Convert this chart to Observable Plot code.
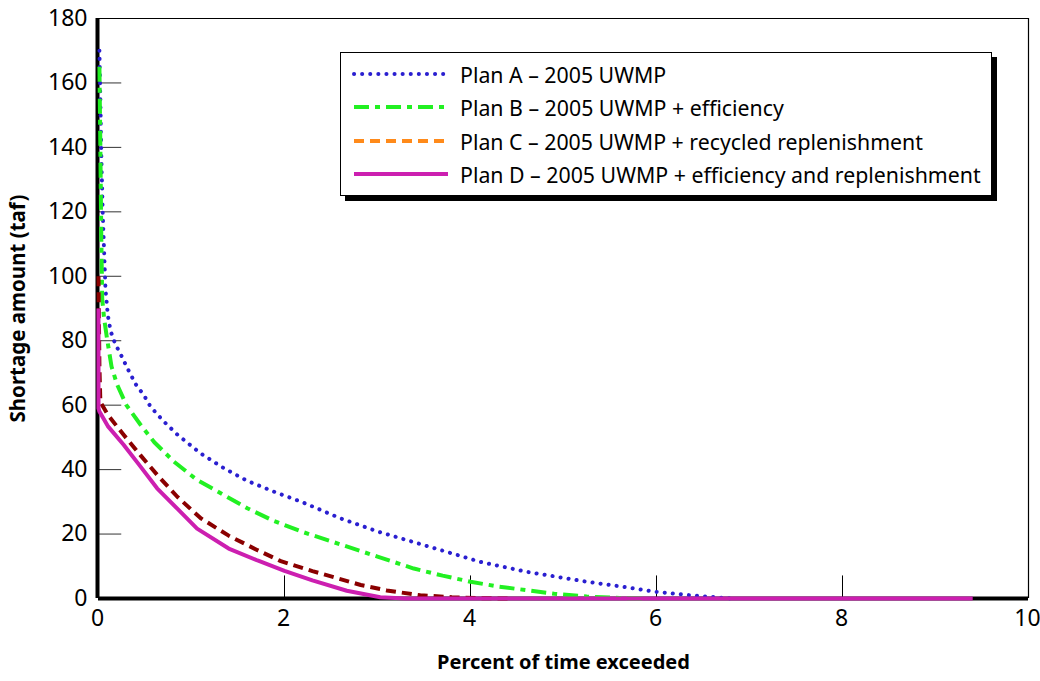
<!DOCTYPE html>
<html><head><meta charset="utf-8">
<script src="https://cdn.jsdelivr.net/npm/d3@7"></script>
<script src="https://cdn.jsdelivr.net/npm/@observablehq/plot@0.6"></script>
<style>
body{margin:0;background:#fff;font-family:"Noto Sans",sans-serif}
#wrap{position:relative;width:1040px;height:681px}
#legend{position:absolute;left:340px;top:52px;width:652px;height:144px;border:1px solid #000;background:#fff;box-shadow:5px 5px 0 #000;box-sizing:border-box}
.row{position:absolute;left:11px;height:26px;display:flex;align-items:center;font-size:21.3px;color:#000;white-space:nowrap}
.row svg{margin-right:10px}
</style></head><body><div id="wrap"></div>
<script>
// Data
const seriesNames = ["Plan A – 2005 UWMP", "Plan B – 2005 UWMP + efficiency", "Plan C – 2005 UWMP + recycled replenishment", "Plan D – 2005 UWMP + efficiency and replenishment"];
const lineColors = ["#2a1fd0", "#22f022", "#8a0000", "#cc1fb0"];
const legendColors = ["#2a1fd0", "#22f022", "#ff8a1a", "#cc1fb0"];

const planA_x = [0.01, 0.02, 0.03, 0.045, 0.06, 0.075, 0.1, 0.13, 0.18, 0.24, 0.31, 0.4, 0.49, 0.56, 0.7, 0.85, 1.1, 1.35, 1.6, 1.9, 2.2, 2.6, 3.0, 3.4, 3.8, 4.1, 4.6, 5.25, 5.6, 6.0, 6.4, 6.8];
const planA_y = [170, 155, 138, 120, 108, 96, 88, 83, 79, 75.7, 71.5, 66.5, 63, 59.5, 55, 50.8, 45, 40.4, 36.5, 33, 29.8, 24.9, 20.8, 17.4, 14, 11.4, 8.3, 5.2, 3.8, 2.05, 0.9, 0];

const planB_x = [0.01, 0.02, 0.03, 0.04, 0.06, 0.09, 0.14, 0.2, 0.3, 0.45, 0.6, 0.81, 1.05, 1.35, 1.6, 1.89, 2.2, 2.6, 3.0, 3.39, 3.7, 4.0, 4.3, 4.6, 4.9, 5.25, 5.6, 5.9];
const planB_y = [165, 140, 112, 93, 87, 81, 72, 66.4, 60, 54, 48.5, 42.5, 37, 32.1, 28, 24, 20.6, 16.8, 13, 9.3, 7.1, 5.2, 3.7, 2.6, 1.5, 0.6, 0.15, 0];

const planC_x = [0.0, 0.005, 0.01, 0.02, 0.1, 0.27, 0.45, 0.63, 0.85, 1.1, 1.4, 1.71, 1.96, 2.3, 2.58, 2.82, 3.1, 3.46, 3.8, 4.1, 4.4];
const planC_y = [100, 85, 72, 61, 57, 50.8, 44.5, 38.4, 31.5, 24.9, 19.5, 15, 11.6, 8.5, 6.2, 4.2, 2.5, 1.0, 0.4, 0.1, 0];

const planD_x = [0.0, 0.0, 0.01, 0.1, 0.27, 0.45, 0.63, 0.85, 1.06, 1.4, 1.71, 2.0, 2.3, 2.67, 3.03, 3.3, 9.4];
const planD_y = [90, 59, 58, 53.5, 47.7, 41, 34.2, 27.8, 21.7, 15.5, 11.8, 8.6, 5.6, 2.4, 0.4, 0, 0];

const xTicks = [0, 2, 4, 6, 8, 10];
const yTicks = [0, 20, 40, 60, 80, 100, 120, 140, 160, 180];
const innerXTicks = [2, 4, 6, 8];
const innerYTicks = [0, 20, 40, 60, 80, 100, 120, 140, 160];

const dashes = ["0.1 8", "15 6 5 6", "10 6", null];
const widths = [4, 4, 4, 4];

const series = [planA_x, planB_x, planC_x, planD_x].map((xs, i) => {
  const ys = [planA_y, planB_y, planC_y, planD_y][i];
  return xs.map((x, j) => ({x, y: ys[j], s: i}));
});

const font = '"Noto Sans", sans-serif';

const marks = [
  Plot.ruleY([180], {stroke: "#000", strokeWidth: 1.2}),
  Plot.ruleX([10], {stroke: "#000", strokeWidth: 1.2}),
  Plot.ruleY(innerYTicks, {y: d => d, x1: 0, x2: 0.25, stroke: "#333", strokeWidth: 1}),
  Plot.ruleX(innerXTicks, {x: d => d, y1: 0, y2: 7, stroke: "#000", strokeWidth: 1}),
  Plot.ruleX([0], {stroke: "#000", strokeWidth: 4, dx: -1}),
  Plot.ruleY([0], {stroke: "#000", strokeWidth: 4}),
  ...series.map((data, i) => Plot.line(data, {
    x: "x", y: "y", stroke: lineColors[i], strokeWidth: widths[i],
    strokeDasharray: dashes[i], strokeLinecap: i === 0 ? "round" : "butt",
    strokeLinejoin: "round"
  })),
  Plot.text(yTicks, {x: 0, y: d => d, text: d => String(d), textAnchor: "end", dx: -11, fontSize: 23, fill: "#000"}),
  Plot.text(xTicks, {x: d => d, y: 0, text: d => String(d), textAnchor: "middle", dx: -1, dy: 20, fontSize: 23, fill: "#000"}),
  Plot.text(["Shortage amount (taf)"], {frameAnchor: "left", rotate: -90, textAnchor: "middle", dx: -80, fontSize: 20.5, fontWeight: "bold", fill: "#000"}),
  Plot.text(["Percent of time exceeded"], {frameAnchor: "bottom", textAnchor: "middle", dy: 70, fontSize: 20, fontWeight: "bold", fill: "#000"})
];

const chart = Plot.plot({
  width: 1040, height: 681,
  marginLeft: 98, marginRight: 12, marginTop: 18, marginBottom: 83,
  x: {domain: [0, 10], axis: null},
  y: {domain: [0, 180], axis: null},
  style: {fontFamily: font, fontSize: "20px", color: "#000", background: "#fff", overflow: "visible"},
  marks
});

const wrap = document.getElementById("wrap");
wrap.appendChild(chart);

// Legend
const legend = document.createElement("div");
legend.id = "legend";
const rowTops = [8, 41, 75, 108];
seriesNames.forEach((name, i) => {
  const row = document.createElement("div");
  row.className = "row";
  row.style.top = rowTops[i] + "px";
  const sw = d3.create("svg").attr("width", 98).attr("height", 10);
  sw.append("line").attr("x1", 2).attr("x2", 96).attr("y1", 5).attr("y2", 5)
    .attr("stroke", legendColors[i]).attr("stroke-width", 4)
    .attr("stroke-dasharray", dashes[i])
    .attr("stroke-linecap", i === 0 ? "round" : "butt");
  row.appendChild(sw.node());
  const t = document.createElement("span");
  t.textContent = name;
  row.appendChild(t);
  legend.appendChild(row);
});
wrap.appendChild(legend);
</script></body></html>
